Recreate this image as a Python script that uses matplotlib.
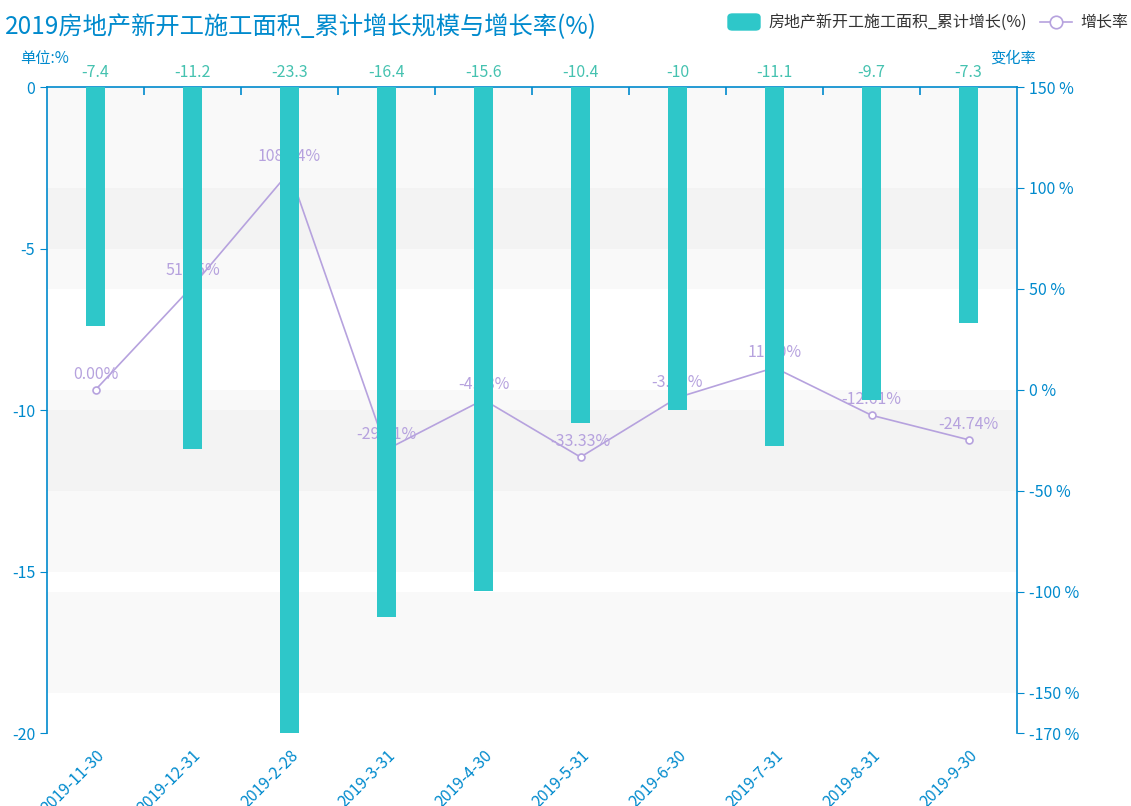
import matplotlib

matplotlib.use("Agg")
import matplotlib.pyplot as plt
from matplotlib.patches import Rectangle, FancyBboxPatch
from matplotlib.lines import Line2D
from matplotlib.transforms import blended_transform_factory

plt.rcParams["font.family"] = ["Noto Sans CJK SC", "DejaVu Sans"]

dates = ["2019-11-30", "2019-12-31", "2019-2-28", "2019-3-31", "2019-4-30",
         "2019-5-31", "2019-6-30", "2019-7-31", "2019-8-31", "2019-9-30"]
growth = [-7.4, -11.2, -23.3, -16.4, -15.6, -10.4, -10, -11.1, -9.7, -7.3]
rate = [0.00, 51.35, 108.04, -29.61, -4.88, -33.33, -3.85, 11.00, -12.61, -24.74]
left_ticks = [0, -5, -10, -15, -20]
right_ticks = [150, 100, 50, 0, -50, -100, -150, -170]

AXIS = "#008acd"
BAR = "#2ec7c9"
LINE = "#b6a2de"
BAR_TXT = "#45c2b0"
BAND = (0.75, 0.75, 0.75, 0.09)
FS = 11.5

fig = plt.figure(figsize=(11.31, 8.06), dpi=100)
ax2 = fig.add_axes([47 / 1131, 1 - 733 / 806, 970 / 1131, 646 / 806])
ax = ax2.twinx()
ax.set_zorder(ax2.get_zorder() + 1)
ax.patch.set_visible(False)
ax.xaxis.set_visible(True)

# right axis holds the line, left axis holds the bars
ax2.yaxis.tick_right()
ax.yaxis.tick_left()

n = len(dates)
xs = list(range(n))
ax.set_xlim(-0.5, n - 0.5)
ax.set_ylim(-20, 0)
ax2.set_ylim(-170, 150)

# split areas of both value axes
for i in range(1, len(right_ticks) - 1, 2):
    ax2.axhspan(right_ticks[i + 1], right_ticks[i], color=BAND, lw=0, zorder=0)
trans = blended_transform_factory(ax2.transAxes, ax.transData)
for i in range(0, len(left_ticks) - 1, 2):
    ax2.add_patch(Rectangle((0, left_ticks[i + 1]), 1, left_ticks[i] - left_ticks[i + 1],
                            transform=trans, color=BAND, lw=0, zorder=0))

# line + labels
ax2.plot(xs, rate, color=LINE, lw=1.2, marker="o", ms=5, mfc="white",
         mec=LINE, mew=1.2, zorder=3)
for x, v in zip(xs, rate):
    ax2.annotate(f"{v:.2f}%", (x, v), xytext=(0, 5), textcoords="offset points",
                 ha="center", va="bottom", color=LINE, fontsize=FS, zorder=4)

# bars
ax.bar(xs, growth, width=0.2, color=BAR, zorder=3)
for x, v in zip(xs, growth):
    ax.annotate(f"{v:g}", (x, 0), xytext=(0, 4), textcoords="offset points",
                ha="center", va="bottom", color=BAR_TXT, fontsize=FS,
                annotation_clip=False)

# spines
for a in (ax, ax2):
    for s in a.spines.values():
        s.set_visible(False)
ax.spines["left"].set_visible(True)
ax.spines["top"].set_visible(True)
ax2.spines["right"].set_visible(True)
for s in (ax.spines["left"], ax.spines["top"], ax2.spines["right"]):
    s.set_color(AXIS)
    s.set_linewidth(1.2)

ax.set_yticks(left_ticks)
ax.set_yticklabels([f"{t:g}" for t in left_ticks])
ax.tick_params(axis="y", colors=AXIS, labelcolor=AXIS, labelsize=FS, length=5)
ax2.set_yticks(right_ticks)
ax2.set_yticklabels([f"{t} %" for t in right_ticks])
ax2.tick_params(axis="y", colors=AXIS, labelcolor=AXIS, labelsize=FS, length=5)

ax.set_xticks(xs)
ax.set_xticklabels(dates, rotation=45, ha="right", va="top",
                   rotation_mode="anchor", color=AXIS, fontsize=FS)
ax.set_xticks([x + 0.5 for x in xs[:-1]], minor=True)
ax.tick_params(axis="x", which="major", bottom=True, top=False, length=0, pad=10,
               labelbottom=True)
ax.tick_params(axis="x", which="minor", top=True, bottom=False, direction="in",
               length=6, color=AXIS, width=1.2)
ax2.xaxis.set_visible(False)

# titles
fig.text(5 / 1131, 1 - 27 / 806, "2019房地产新开工施工面积_累计增长规模与增长率(%)",
         color=AXIS, fontsize=17.5, va="center", ha="left")
fig.text(20 / 1131, 1 - 58 / 806, "单位:%", color=AXIS, fontsize=11,
         va="center", ha="left")
fig.text(990 / 1131, 1 - 58 / 806, "变化率", color=AXIS, fontsize=11,
         va="center", ha="left")

# legend
fig.patches.append(FancyBboxPatch((728 / 1131, 1 - 30 / 806), 32 / 1131, 16 / 806,
                                  boxstyle="round,pad=0,rounding_size=0.004",
                                  transform=fig.transFigure, color=BAR))
fig.text(768 / 1131, 1 - 22 / 806, "房地产新开工施工面积_累计增长(%)", color="#333333",
         fontsize=11.5, va="center", ha="left")
fig.lines.append(Line2D([1040 / 1131, 1072 / 1131], [1 - 22 / 806] * 2,
                        transform=fig.transFigure, color=LINE, lw=1.2))
fig.lines.append(Line2D([1056 / 1131], [1 - 22 / 806], transform=fig.transFigure,
                        marker="o", ms=9, mfc="white", mec=LINE, mew=1.2))
fig.text(1080 / 1131, 1 - 22 / 806, "增长率", color="#333333", fontsize=11.5,
         va="center", ha="left")

fig.savefig("out.png", dpi=100)
